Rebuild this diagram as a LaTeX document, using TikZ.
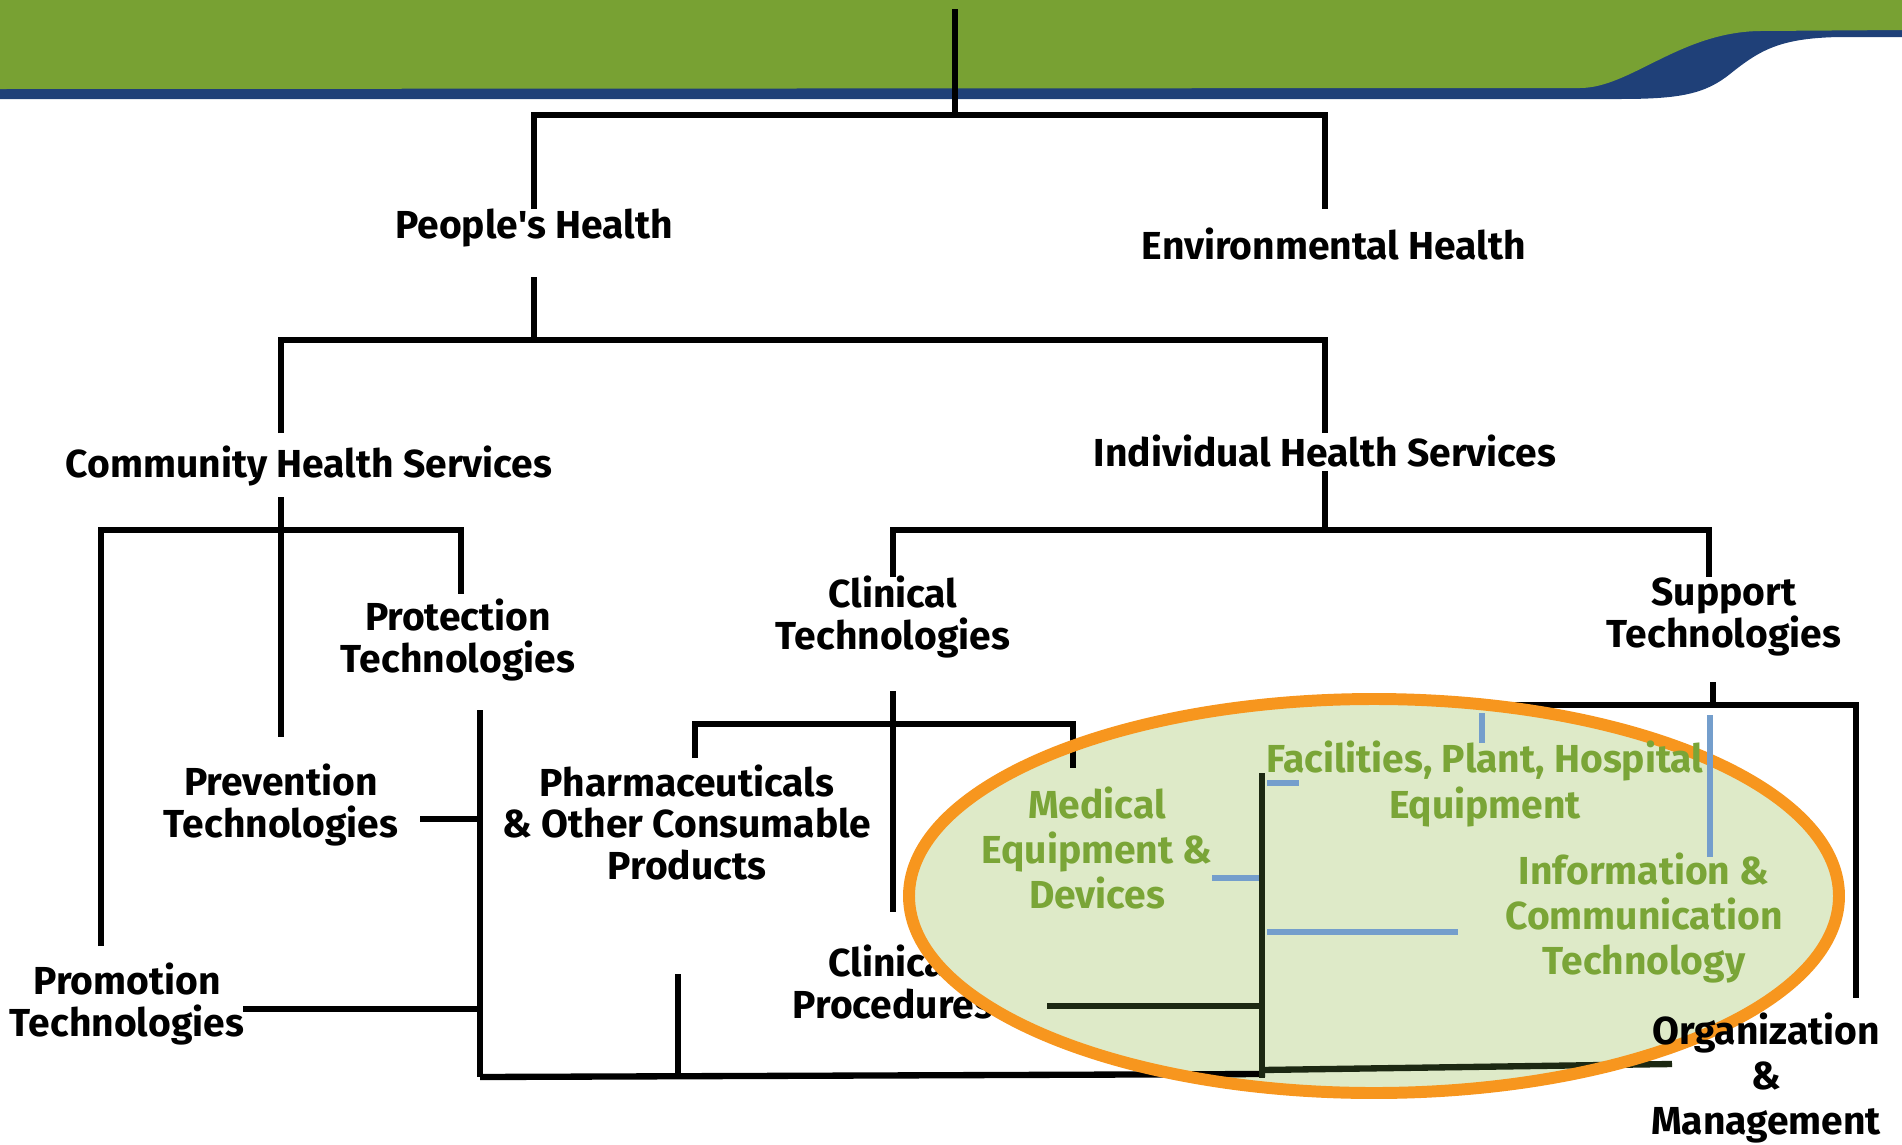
\documentclass[tikz,border=0pt]{standalone}
\usepackage{fontspec}
\setmainfont{Fira Sans}
\usepackage{tikz}
\definecolor{bannergreen}{RGB}{120,161,51}
\definecolor{bannerblue}{RGB}{31,64,120}
\definecolor{leafgreen}{RGB}{122,165,55}
\definecolor{steel}{RGB}{116,158,204}
\definecolor{ringorange}{RGB}{247,150,30}
\definecolor{ringfill}{RGB}{222,234,200}
\definecolor{darkolive}{RGB}{28,40,18}
\tikzstyle{txt}=[font=\bfseries\fontsize{11.1}{11.8}\selectfont, align=center, inner sep=0pt]
\tikzstyle{txtwide}=[font=\bfseries\fontsize{11.1}{12.8}\selectfont, align=center, inner sep=0pt]
\tikzstyle{txtgreen}=[txtwide, text=leafgreen]
\tikzstyle{branch}=[line width=1.8pt, line join=miter]
\tikzstyle{branchdark}=[branch, darkolive]
\tikzstyle{branchblue}=[line width=1.6pt, steel]

\begin{document}
\begin{tikzpicture}[x=0.01cm, y=-0.01cm]
		   \useasboundingbox (0,0) rectangle (1902,1145);
		   % banner
		   \fill [bannerblue] (0,0) -- (1902,0) -- (1902,37) -- (1840,37)
			   .. controls (1780,38) and (1760,50) .. (1730,74)
			   .. controls (1705,94) and (1680,99) .. (1620,99) -- (0,99) -- cycle;
		   \fill [bannergreen] (0,0) -- (1902,0) -- (1902,30) -- (1760,31)
			   .. controls (1680,32) and (1630,88) .. (1580,88) -- (0,89) -- cycle;
		   \begin{scope}
			   \node (ph) at (534,228)[txt] {People\textquotesingle s Health};
			   \node (eh) at (1334,244)[txt] {Environmental Health};
			   \node (chs) at (309,466)[txt] {Community Health Services};
			   \node (ihs) at (1325,451)[txt] {Individual Health Services};
			   \node (prot) at (458,640)[txt] {Protection\\Technologies};
			   \node (prev) at (281,805)[txt] {Prevention\\Technologies};
			   \node (promo) at (127,1004)[txt] {Promotion\\Technologies};
			   \node (ct) at (893,617)[txt] {Clinical\\Technologies};
			   \node (st) at (1724,617)[txt] {Support\\Technologies};
			   \node (pharma) at (687,822)[txt] {Pharmaceuticals\\\& Other Consumable\\Products};
			   \node (cp) at (893,982)[txt] {Clinical\\Procedures};
		   \end{scope}
		   \begin{scope}
			   \coordinate (t0) at (955,9);
			   \coordinate (j0) at (955,115);
			   \coordinate (j1) at (534,340);
			   \coordinate (j2) at (281,530);
			   \coordinate (j3) at (1325,530);
			   \coordinate (j4) at (893,724);
			   \coordinate (j5) at (1713,705);
			   \coordinate (r0) at (480,710);
			   \coordinate (r1) at (480,1077);
			   \coordinate (r2) at (1265,1074);
			   \coordinate (p0) at (678,974);
			   \coordinate (p1) at (678,1076);
			   \coordinate (s0) at (1490,705);
			   \coordinate (s1) at (1856,998);
			   \coordinate (k0) at (1262,773);
			   \coordinate (k1) at (1262,1078);
			   \coordinate (k2) at (1047,1006);
			   \coordinate (k3) at (1262,1006);
			   \coordinate (k4) at (1262,1070);
			   \coordinate (k5) at (1672,1064);
		   \end{scope}
		   % highlighted support technologies
		   \fill [ringfill] (1374,896) ellipse (465 and 197);
		   \begin{scope}
			   \path [branch] (t0) edge (j0);
			   \draw [branch] (534,209) |- (j0) -| (1325,209);
			   \draw [branch] (534,277) -- (j1);
			   \draw [branch] (281,433) |- (j1) -| (1325,433);
			   \draw [branch] (281,497) -- (j2) -- (281,737);
			   \draw [branch] (101,946) |- (j2) -| (461,594);
			   \path [branch] (r0) edge (r1);
			   \draw [branch] (420,819) -- (480,819);
			   \draw [branch] (243,1009) -- (480,1009);
			   \path [branch] (r1) edge (r2);
			   \path [branch] (p0) edge (p1);
			   \draw [branch] (1325,471) -- (j3);
			   \draw [branch] (893,577) |- (j3) -| (1709,577);
			   \draw [branch] (893,691) -- (893,912);
			   \draw [branch] (695,758) |- (j4) -| (1073,768);
			   \draw [branch] (1713,682) -- (j5);
			   \draw [branch] (s0) -| (s1);
			   \path [branchdark] (k0) edge (k1);
			   \path [branchdark] (k2) edge (k3);
			   \path [branchdark] (k4) edge (k5);
		   \end{scope}
		   \draw [ringorange, line width=3.4pt] (1374,896) ellipse (465 and 197);
		   \begin{scope}
			   \draw [branchblue] (1482,713) -- (1482,743);
			   \draw [branchblue] (1710,715) -- (1710,857);
			   \draw [branchblue] (1267,783) -- (1299,783);
			   \draw [branchblue] (1212,878) -- (1259,878);
			   \draw [branchblue] (1267,932) -- (1458,932);
		   \end{scope}
		   \begin{scope}
			   \node (med) at (1097,848)[txtgreen] {Medical\\Equipment \&\\Devices};
			   \node (fac) at (1485,784)[txtgreen] {Facilities, Plant, Hospital\\Equipment};
			   \node (ict) at (1644,918)[txtgreen] {Information \&\\Communication\\Technology};
			   \node (org) at (1766,1078)[txtwide] {Organization\\\&\\Management};
		   \end{scope}
	   \end{tikzpicture}
\end{document}
